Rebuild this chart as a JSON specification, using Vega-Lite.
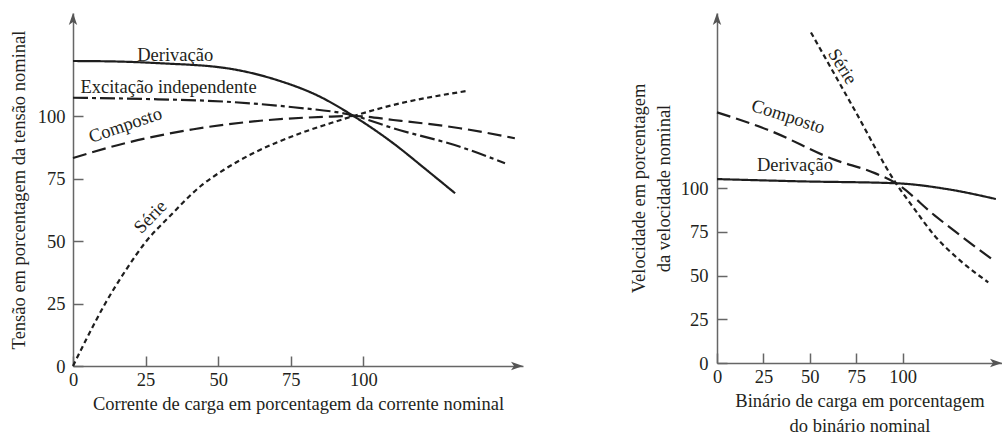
{
  "$schema": "https://vega.github.io/schema/vega-lite/v6.json",
  "padding": {"left": 9, "top": 13, "right": 0, "bottom": 0},
  "spacing": 106,
  "background": "white",
  "config": {
    "view": {"stroke": null},
    "font": "Liberation Serif",
    "axis": {
      "grid": false,
      "labelFont": "Liberation Serif",
      "labelFontSize": 18.5,
      "labelColor": "#231f20",
      "labelFlush": false,
      "labelOverlap": false,
      "titleFont": "Liberation Serif",
      "titleFontSize": 18.5,
      "titleFontWeight": "normal",
      "titleColor": "#231f20",
      "domainColor": "#666666",
      "domainWidth": 1.5,
      "tickColor": "#666666",
      "tickWidth": 1.5,
      "tickSize": -10
    },
    "axisX": {"labelPadding": 14, "titlePadding": 6},
    "axisY": {"labelPadding": 18, "titlePadding": 9}
  },
  "datasets": {
    "leftCurves": [
      {"series": "Derivação", "x": 0, "y": 122},
      {"series": "Derivação", "x": 15, "y": 121.8},
      {"series": "Derivação", "x": 30, "y": 121.1},
      {"series": "Derivação", "x": 53, "y": 119.1},
      {"series": "Derivação", "x": 70.2, "y": 114.4},
      {"series": "Derivação", "x": 85.1, "y": 107.7},
      {"series": "Derivação", "x": 96.6, "y": 100},
      {"series": "Derivação", "x": 110.3, "y": 89.1},
      {"series": "Derivação", "x": 121.8, "y": 78.4},
      {"series": "Derivação", "x": 131.6, "y": 69.1},
      {"series": "Excitação independente", "x": 0, "y": 107.3},
      {"series": "Excitação independente", "x": 25, "y": 106.8},
      {"series": "Excitação independente", "x": 53, "y": 105.7},
      {"series": "Excitação independente", "x": 75.9, "y": 103.5},
      {"series": "Excitação independente", "x": 96.6, "y": 100.2},
      {"series": "Excitação independente", "x": 110.3, "y": 95.1},
      {"series": "Excitação independente", "x": 133.3, "y": 87.7},
      {"series": "Excitação independente", "x": 148.8, "y": 81.1},
      {"series": "Composto", "x": 0, "y": 83.2},
      {"series": "Composto", "x": 18.6, "y": 89.3},
      {"series": "Composto", "x": 41.5, "y": 94.7},
      {"series": "Composto", "x": 64.5, "y": 98.1},
      {"series": "Composto", "x": 87.4, "y": 99.7},
      {"series": "Composto", "x": 97, "y": 100},
      {"series": "Composto", "x": 110.3, "y": 98.4},
      {"series": "Composto", "x": 133.3, "y": 95.1},
      {"series": "Composto", "x": 152.2, "y": 91.1},
      {"series": "Série", "x": 0, "y": 0},
      {"series": "Série", "x": 4.5, "y": 10.5},
      {"series": "Série", "x": 11.1, "y": 25},
      {"series": "Série", "x": 18, "y": 38},
      {"series": "Série", "x": 25.3, "y": 50},
      {"series": "Série", "x": 33, "y": 59.5},
      {"series": "Série", "x": 44, "y": 72},
      {"series": "Série", "x": 52, "y": 78.5},
      {"series": "Série", "x": 61, "y": 84.5},
      {"series": "Série", "x": 70, "y": 89.3},
      {"series": "Série", "x": 80, "y": 93.8},
      {"series": "Série", "x": 88.4, "y": 97},
      {"series": "Série", "x": 96.6, "y": 100},
      {"series": "Série", "x": 110.3, "y": 104.4},
      {"series": "Série", "x": 135.6, "y": 110}
    ],
    "leftLabels": [
      {"label": "Derivação", "x": 35.2, "y": 124.4},
      {"label": "Excitação independente", "x": 32.9, "y": 111.7},
      {"label": "Composto", "x": 18, "y": 96.4},
      {"label": "Série", "x": 26.6, "y": 59.7}
    ],
    "leftArrows": [
      {"axis": "x", "x": 155, "y": 0},
      {"axis": "y", "x": 0, "y": 141.2}
    ],
    "rightCurves": [
      {"series": "Derivação", "x": 0, "y": 105.1},
      {"series": "Derivação", "x": 45.2, "y": 103.8},
      {"series": "Derivação", "x": 96.4, "y": 102.7},
      {"series": "Derivação", "x": 126, "y": 99},
      {"series": "Derivação", "x": 150.2, "y": 93.7},
      {"series": "Composto", "x": 0, "y": 143.2},
      {"series": "Composto", "x": 27.3, "y": 133.3},
      {"series": "Composto", "x": 63.2, "y": 116.2},
      {"series": "Composto", "x": 85, "y": 108.5},
      {"series": "Composto", "x": 96.4, "y": 102.7},
      {"series": "Composto", "x": 117, "y": 84.5},
      {"series": "Composto", "x": 148.5, "y": 59},
      {"series": "Série", "x": 50.6, "y": 188.9},
      {"series": "Série", "x": 73.9, "y": 145},
      {"series": "Série", "x": 96.4, "y": 102.7},
      {"series": "Série", "x": 106, "y": 88.5},
      {"series": "Série", "x": 117, "y": 73},
      {"series": "Série", "x": 131, "y": 58.5},
      {"series": "Série", "x": 146.1, "y": 46.1}
    ],
    "rightLabels": [
      {"label": "Série", "x": 67.7, "y": 169.5},
      {"label": "Composto", "x": 38.4, "y": 140.9},
      {"label": "Derivação", "x": 42, "y": 113.1}
    ],
    "rightArrows": [
      {"axis": "x", "x": 153.5, "y": 0},
      {"axis": "y", "x": 0, "y": 200}
    ]
  },
  "hconcat": [
    {
      "width": 450,
      "height": 353,
      "encoding": {
        "x": {
          "field": "x", "type": "quantitative",
          "scale": {"domain": [0, 155], "nice": false, "zero": false},
          "axis": {"values": [0, 25, 50, 75, 100], "title": "Corrente de carga em porcentagem da corrente nominal"}
        },
        "y": {
          "field": "y", "type": "quantitative",
          "scale": {"domain": [0, 141.2], "nice": false, "zero": false},
          "axis": {"values": [0, 25, 50, 75, 100], "title": "Tensão em porcentagem da tensão nominal"}
        }
      },
      "layer": [
        {
          "data": {"name": "leftCurves"},
          "mark": {"type": "line", "interpolate": "monotone", "color": "#1e1e1e", "strokeWidth": 2.2},
          "encoding": {
            "strokeDash": {
              "field": "series", "type": "nominal",
              "scale": {
                "domain": ["Derivação", "Excitação independente", "Composto", "Série"],
                "range": [[1, 0], [15, 4, 4, 4], [14, 6], [5, 3.5]]
              },
              "legend": null
            }
          }
        },
        {
          "data": {"name": "leftLabels"},
          "transform": [{"filter": "datum.label == 'Derivação' || datum.label == 'Excitação independente'"}],
          "mark": {"type": "text", "font": "Liberation Serif", "fontSize": 18.5, "color": "#231f20", "align": "center", "baseline": "middle"},
          "encoding": {"text": {"field": "label"}}
        },
        {
          "data": {"name": "leftLabels"},
          "transform": [{"filter": "datum.label == 'Composto'"}],
          "mark": {"type": "text", "font": "Liberation Serif", "fontSize": 18.5, "color": "#231f20", "align": "center", "baseline": "middle", "angle": -19},
          "encoding": {"text": {"field": "label"}}
        },
        {
          "data": {"name": "leftLabels"},
          "transform": [{"filter": "datum.label == 'Série'"}],
          "mark": {"type": "text", "font": "Liberation Serif", "fontSize": 18.5, "color": "#231f20", "align": "center", "baseline": "middle", "angle": -46},
          "encoding": {"text": {"field": "label"}}
        },
        {
          "data": {"name": "leftArrows"},
          "transform": [{"filter": "datum.axis == 'x'"}],
          "mark": {"type": "point", "shape": "M0,0L-1,-0.35L-0.75,0L-1,0.35Z", "size": 576, "filled": true, "color": "#555555", "opacity": 1}
        },
        {
          "data": {"name": "leftArrows"},
          "transform": [{"filter": "datum.axis == 'y'"}],
          "mark": {"type": "point", "shape": "M0,0L-0.35,1L0,0.75L0.35,1Z", "size": 576, "filled": true, "color": "#555555", "opacity": 1}
        }
      ]
    },
    {
      "width": 285,
      "height": 350,
      "encoding": {
        "x": {
          "field": "x", "type": "quantitative",
          "scale": {"domain": [0, 153.5], "nice": false, "zero": false},
          "axis": {"values": [0, 25, 50, 75, 100], "title": ["Binário de carga em porcentagem", "do binário nominal"], "titleLineHeight": 25}
        },
        "y": {
          "field": "y", "type": "quantitative",
          "scale": {"domain": [0, 200], "nice": false, "zero": false},
          "axis": {"values": [0, 25, 50, 75, 100], "title": ["Velocidade em porcentagem", "da velocidade nominal"], "titleLineHeight": 25, "labelPadding": 19, "titlePadding": 7}
        }
      },
      "layer": [
        {
          "data": {"name": "rightCurves"},
          "mark": {"type": "line", "interpolate": "monotone", "color": "#1e1e1e", "strokeWidth": 2.2},
          "encoding": {
            "strokeDash": {
              "field": "series", "type": "nominal",
              "scale": {
                "domain": ["Derivação", "Composto", "Série"],
                "range": [[1, 0], [15, 5, 4, 5], [10, 5]]
              },
              "legend": null
            }
          }
        },
        {
          "data": {"name": "rightLabels"},
          "transform": [{"filter": "datum.label == 'Derivação'"}],
          "mark": {"type": "text", "font": "Liberation Serif", "fontSize": 18.5, "color": "#231f20", "align": "center", "baseline": "middle"},
          "encoding": {"text": {"field": "label"}}
        },
        {
          "data": {"name": "rightLabels"},
          "transform": [{"filter": "datum.label == 'Composto'"}],
          "mark": {"type": "text", "font": "Liberation Serif", "fontSize": 18.5, "color": "#231f20", "align": "center", "baseline": "middle", "angle": 18},
          "encoding": {"text": {"field": "label"}}
        },
        {
          "data": {"name": "rightLabels"},
          "transform": [{"filter": "datum.label == 'Série'"}],
          "mark": {"type": "text", "font": "Liberation Serif", "fontSize": 18.5, "color": "#231f20", "align": "center", "baseline": "middle", "angle": 58},
          "encoding": {"text": {"field": "label"}}
        },
        {
          "data": {"name": "rightArrows"},
          "transform": [{"filter": "datum.axis == 'x'"}],
          "mark": {"type": "point", "shape": "M0,0L-1,-0.35L-0.75,0L-1,0.35Z", "size": 576, "filled": true, "color": "#555555", "opacity": 1}
        },
        {
          "data": {"name": "rightArrows"},
          "transform": [{"filter": "datum.axis == 'y'"}],
          "mark": {"type": "point", "shape": "M0,0L-0.35,1L0,0.75L0.35,1Z", "size": 576, "filled": true, "color": "#555555", "opacity": 1}
        }
      ]
    }
  ]
}
